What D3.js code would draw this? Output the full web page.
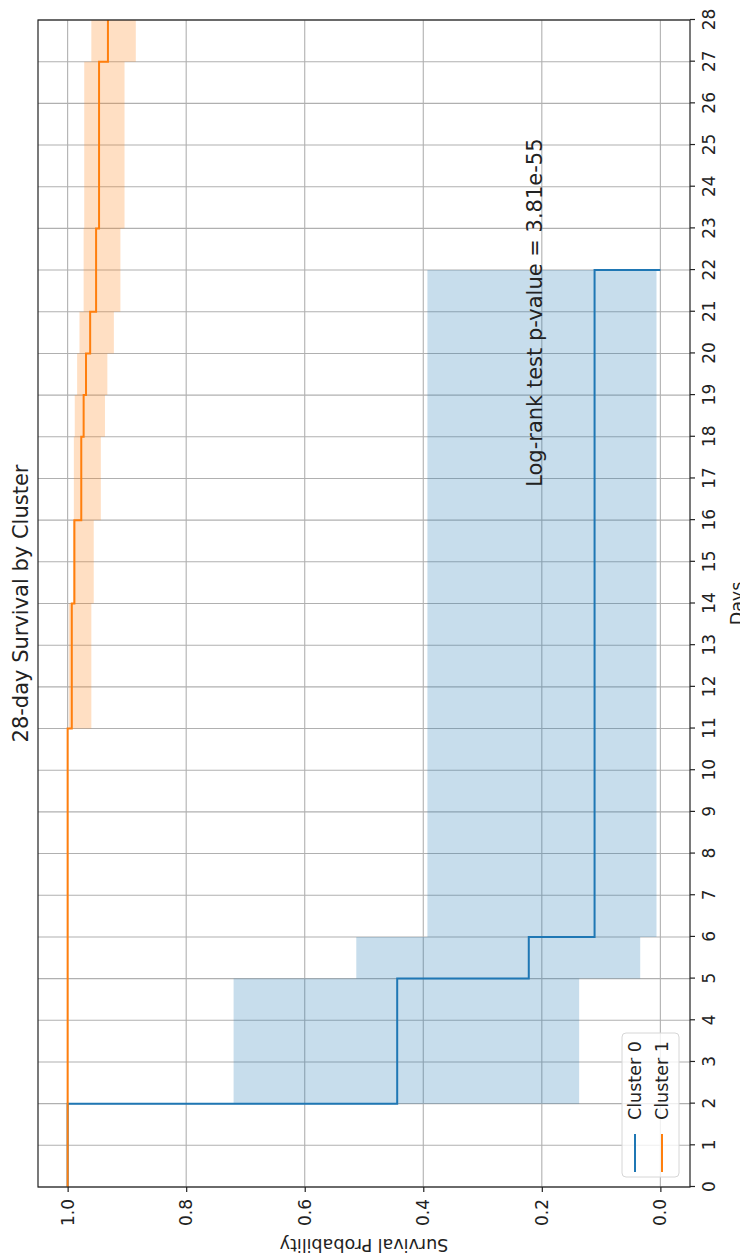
<!DOCTYPE html>
<html>
<head>
<meta charset="utf-8">
<script src="https://cdn.jsdelivr.net/npm/d3@7"></script>
<style>
  body { margin: 0; background: #fff; }
  text { font-family: "DejaVu Sans", sans-serif; fill: #222; }
</style>
</head>
<body>
<svg id="chart"></svg>
<script>
// page size (the chart is drawn landscape, then turned a quarter turn)
const pageW = 740;
const pageH = 1259;

// Kaplan-Meier values
const cluster0Days  = [0, 2, 5, 6, 22];
const cluster0Surv  = [1.0, 0.444, 0.222, 0.111, 0.0];
const cluster0Lower = [1.0, 0.137, 0.034, 0.0065];
const cluster0Upper = [1.0, 0.720, 0.513, 0.393];

const cluster1Days  = [0, 11, 14, 16, 18, 19, 20, 21, 23, 27, 28];
const cluster1Surv  = [1.0, 0.993, 0.9886, 0.977, 0.973, 0.969, 0.962, 0.952, 0.947, 0.932, 0.932];
const cluster1Lower = [1.0, 0.960, 0.956, 0.944, 0.937, 0.933, 0.922, 0.911, 0.904, 0.885];
const cluster1Upper = [1.0, 0.998, 0.991, 0.9895, 0.988, 0.984, 0.980, 0.973, 0.972, 0.960];

const dayTicks = d3.range(0, 29);
const survTicks = [0.0, 0.2, 0.4, 0.6, 0.8, 1.0];
const seriesNames = ["Cluster 0", "Cluster 1"];
const seriesColors = ["#1f77b4", "#ff7f0e"];

// landscape size before rotation
const W = pageH, H = pageW;
const margin = {top: 38, right: 20, bottom: 50, left: 72};

const svg = d3.select("#chart")
    .attr("width", pageW)
    .attr("height", pageH);

// rotate the whole plot so days run bottom -> top
const g = svg.append("g")
    .attr("transform", "translate(0," + pageH + ") rotate(-90)");

const x = d3.scaleLinear().domain([0, 28]).range([margin.left, W - margin.right]);
const y = d3.scaleLinear().domain([-0.05, 1.05]).range([H - margin.bottom, margin.top]);

// grid
g.append("g").selectAll("line")
    .data(dayTicks).enter().append("line")
    .attr("x1", d => x(d)).attr("x2", d => x(d))
    .attr("y1", y.range()[0]).attr("y2", y.range()[1])
    .attr("stroke", "#b0b0b0").attr("stroke-width", 1.1);
g.append("g").selectAll("line")
    .data(survTicks).enter().append("line")
    .attr("x1", x.range()[0]).attr("x2", x.range()[1])
    .attr("y1", d => y(d)).attr("y2", d => y(d))
    .attr("stroke", "#b0b0b0").attr("stroke-width", 1.1);

// confidence bands (step-post)
function bandPoints(days, lower, upper) {
  let pts = lower.map((l, i) => ({t: days[i], lo: l, hi: upper[i]}));
  let last = pts[pts.length - 1];
  pts.push({t: days[lower.length], lo: last.lo, hi: last.hi});
  return pts;
}
const band = d3.area()
    .curve(d3.curveStepAfter)
    .x(d => x(d.t))
    .y0(d => y(d.lo))
    .y1(d => y(d.hi));

g.append("path")
    .datum(bandPoints(cluster0Days, cluster0Lower, cluster0Upper))
    .attr("d", band)
    .attr("fill", seriesColors[0]).attr("fill-opacity", 0.25);
g.append("path")
    .datum(bandPoints(cluster1Days, cluster1Lower, cluster1Upper))
    .attr("d", band)
    .attr("fill", seriesColors[1]).attr("fill-opacity", 0.25);

// survival lines
const step = d3.line()
    .curve(d3.curveStepAfter)
    .x(d => x(d[0]))
    .y(d => y(d[1]));

g.append("path")
    .datum(cluster0Days.map((d, i) => [d, cluster0Surv[i]]))
    .attr("d", step)
    .attr("fill", "none").attr("stroke", seriesColors[0]).attr("stroke-width", 2);
g.append("path")
    .datum(cluster1Days.map((d, i) => [d, cluster1Surv[i]]))
    .attr("d", step)
    .attr("fill", "none").attr("stroke", seriesColors[1]).attr("stroke-width", 2);

// frame
g.append("rect")
    .attr("x", x.range()[0]).attr("y", y.range()[1])
    .attr("width", x.range()[1] - x.range()[0])
    .attr("height", y.range()[0] - y.range()[1])
    .attr("fill", "none").attr("stroke", "#222").attr("stroke-width", 1.2);

// axes
const xAxis = g.append("g")
    .attr("transform", "translate(0," + y.range()[0] + ")")
    .call(d3.axisBottom(x).tickValues(dayTicks).tickSize(5).tickPadding(8).tickSizeOuter(0));
const yAxis = g.append("g")
    .attr("transform", "translate(" + x.range()[0] + ",0)")
    .call(d3.axisLeft(y).tickValues(survTicks).tickFormat(d3.format(".1f")).tickSize(5).tickPadding(7).tickSizeOuter(0));
[xAxis, yAxis].forEach(a => {
  a.select(".domain").remove();
  a.selectAll(".tick line").attr("stroke", "#222").attr("stroke-width", 1.2);
  a.selectAll(".tick text").style("font-size", "17px").style("font-family", "DejaVu Sans");
});

// titles
g.append("text")
    .attr("x", (x.range()[0] + x.range()[1]) / 2).attr("y", 28)
    .attr("text-anchor", "middle")
    .style("font-size", "21px")
    .text("28-day Survival by Cluster");

g.append("text")
    .attr("x", (x.range()[0] + x.range()[1]) / 2).attr("y", 743)
    .attr("text-anchor", "middle")
    .style("font-size", "17.5px")
    .text("Days");

g.append("text")
    .attr("transform", "translate(20," + (y.range()[0] + y.range()[1]) / 2 + ") rotate(-90)")
    .attr("text-anchor", "middle")
    .style("font-size", "17.5px")
    .text("Survival Probability");

// log-rank annotation
g.append("text")
    .attr("x", x(16.8)).attr("y", y(0.2))
    .style("font-size", "21px")
    .text("Log-rank test p-value = 3.81e-55");

// legend
const legend = g.append("g").attr("transform", "translate(82,622)");
legend.append("rect")
    .attr("width", 144).attr("height", 57).attr("rx", 4)
    .attr("fill", "#fff").attr("fill-opacity", 0.8)
    .attr("stroke", "#d6d6d6");
seriesNames.forEach((name, i) => {
  legend.append("line")
      .attr("x1", 5).attr("x2", 43)
      .attr("y1", 13 + i * 27).attr("y2", 13 + i * 27)
      .attr("stroke", seriesColors[i]).attr("stroke-width", 2);
  legend.append("text")
      .attr("x", 57).attr("y", 13 + i * 27).attr("dy", "0.35em")
      .style("font-size", "17.5px")
      .text(name);
});
</script>
</body>
</html>
